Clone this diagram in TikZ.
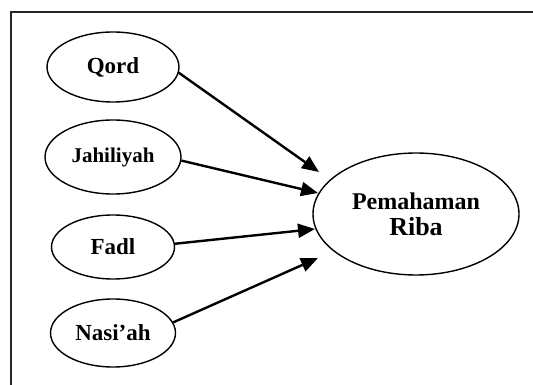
\documentclass[tikz,border=0pt]{standalone}
\usepackage{fontspec}
\setmainfont{Liberation Serif}
\usetikzlibrary{shapes,arrows.meta}
\tikzstyle{factor} = [draw, ellipse, line width=1.4pt, inner sep=0pt,
    font=\bfseries\fontsize{23}{26}\selectfont]
\tikzstyle{link} = [draw, line width=2.4pt, -{Triangle[length=17pt,width=14pt]}]

\begin{document}
\begin{tikzpicture}[x=1pt, y=-1pt, node distance=90pt]
\useasboundingbox (0,0) rectangle (533,385);
\draw [line width=1.4pt, black!85] (11,385) -- (11,12) -- (533,12);

\node [factor, minimum width=132pt, minimum height=70pt] (qord) at (113,67) {Qord};
\node [factor, minimum width=136pt, minimum height=74pt, below of=qord,
    font=\bfseries\fontsize{21}{24}\selectfont] (jah) {Jahiliyah};
\node [factor, minimum width=123pt, minimum height=64pt, below of=jah] (fadl) {Fadl};
\node [factor, minimum width=125pt, minimum height=68pt, below of=fadl,
    node distance=86pt] (nas) {Nasi’ah};
\node [factor, minimum width=206pt, minimum height=122pt, align=center] (riba) at (416,214)
    {\fontsize{24}{29}\selectfont Pemahaman\\\fontsize{26}{29}\selectfont Riba};

\coordinate (qtip) at (319,172);
\coordinate (jtip) at (318,193);
\coordinate (ftip) at (315,229);
\coordinate (ntip) at (318,258);

\draw [link] (qord.-5) -- (qtip);
\draw [link] (jah.-3) -- (jtip);
\draw [link] (fadl.3) -- (ftip);
\draw [link] (nas.10) -- (ntip);

\end{tikzpicture}
\end{document}
